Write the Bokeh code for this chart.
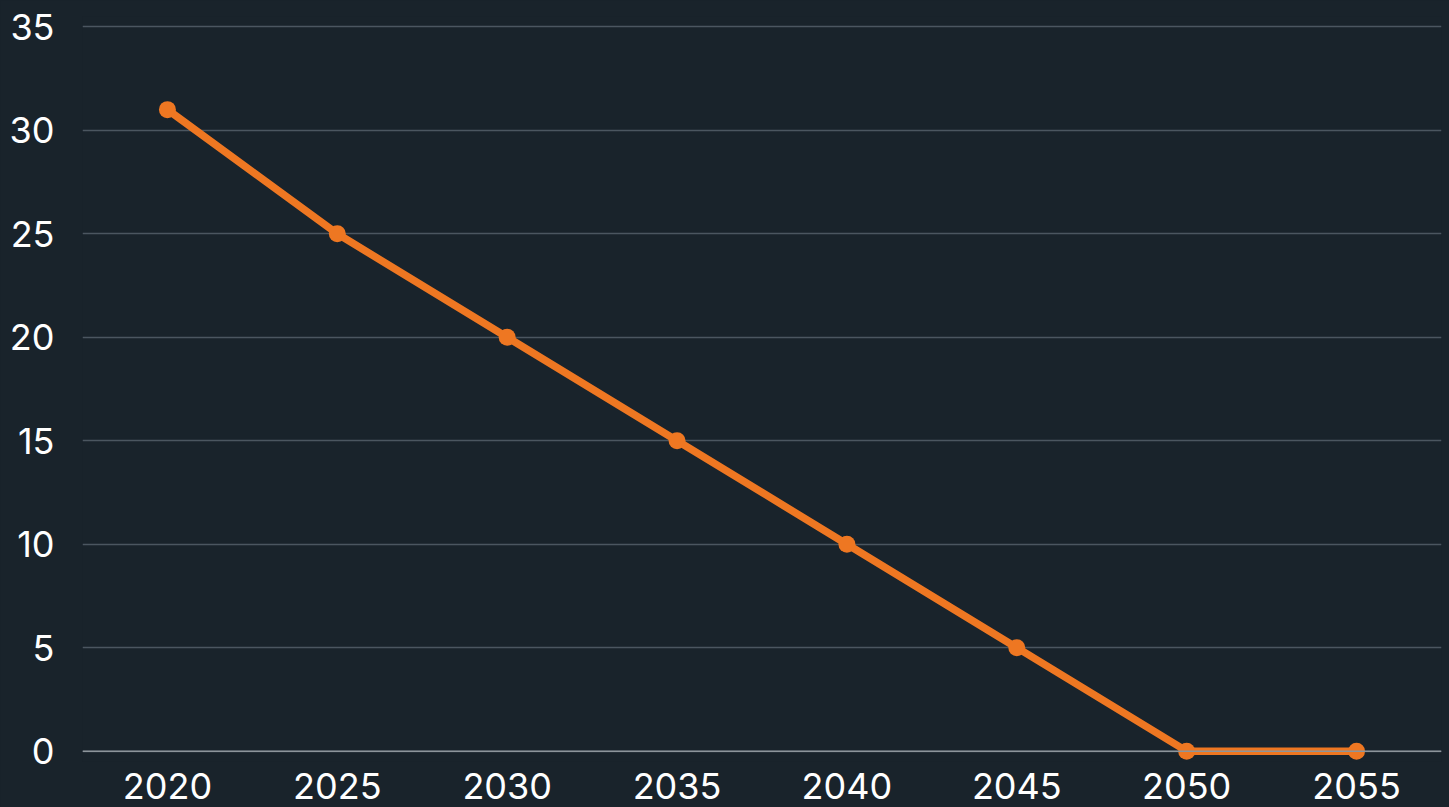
from bokeh.plotting import figure
from bokeh.models import Range1d, FactorRange, Span
from bokeh.embed import file_html
from bokeh.resources import INLINE

years = ["2020", "2025", "2030", "2035", "2040", "2045", "2050", "2055"]
values = [31, 25, 20, 15, 10, 5, 0, 0]
y_ticks = [0, 5, 10, 15, 20, 25, 30, 35]

BG = "#19232b"
ORANGE = "#ee7722"
FONT = "Inter"

p = figure(width=1449, height=807, x_range=FactorRange(*years), y_range=Range1d(-0.5, 35.5),
           output_backend="svg", toolbar_location=None,
           min_border_left=82, min_border_right=8, min_border_top=16, min_border_bottom=46)
p.background_fill_color = BG
p.border_fill_color = BG
p.outline_line_color = None

p.ygrid.grid_line_color = "#4b5660"
p.ygrid.grid_line_width = 1.3
p.xgrid.grid_line_color = None

p.add_layout(Span(location=0, dimension="width", line_color="#8d959b", line_width=1.5))

p.line(years, values, line_color=ORANGE, line_width=7.5)
p.scatter(years, values, size=17, fill_color=ORANGE, line_color=None)

p.yaxis.ticker = y_ticks
for ax in (p.xaxis[0], p.yaxis[0]):
    ax.major_tick_line_color = None
    ax.minor_tick_line_color = None
    ax.axis_line_color = None
    ax.major_label_text_color = "white"
    ax.major_label_text_font = FONT
    ax.major_label_text_font_size = "36px"
p.yaxis.major_label_standoff = 22
p.xaxis.major_label_standoff = 5

style = "<style>html,body{margin:0;padding:0;background:#19232b;overflow:hidden;}</style>"
html = file_html(p, INLINE)
html = html.replace("<head>", "<head>" + style, 1)
open("out.html", "w").write(html)
